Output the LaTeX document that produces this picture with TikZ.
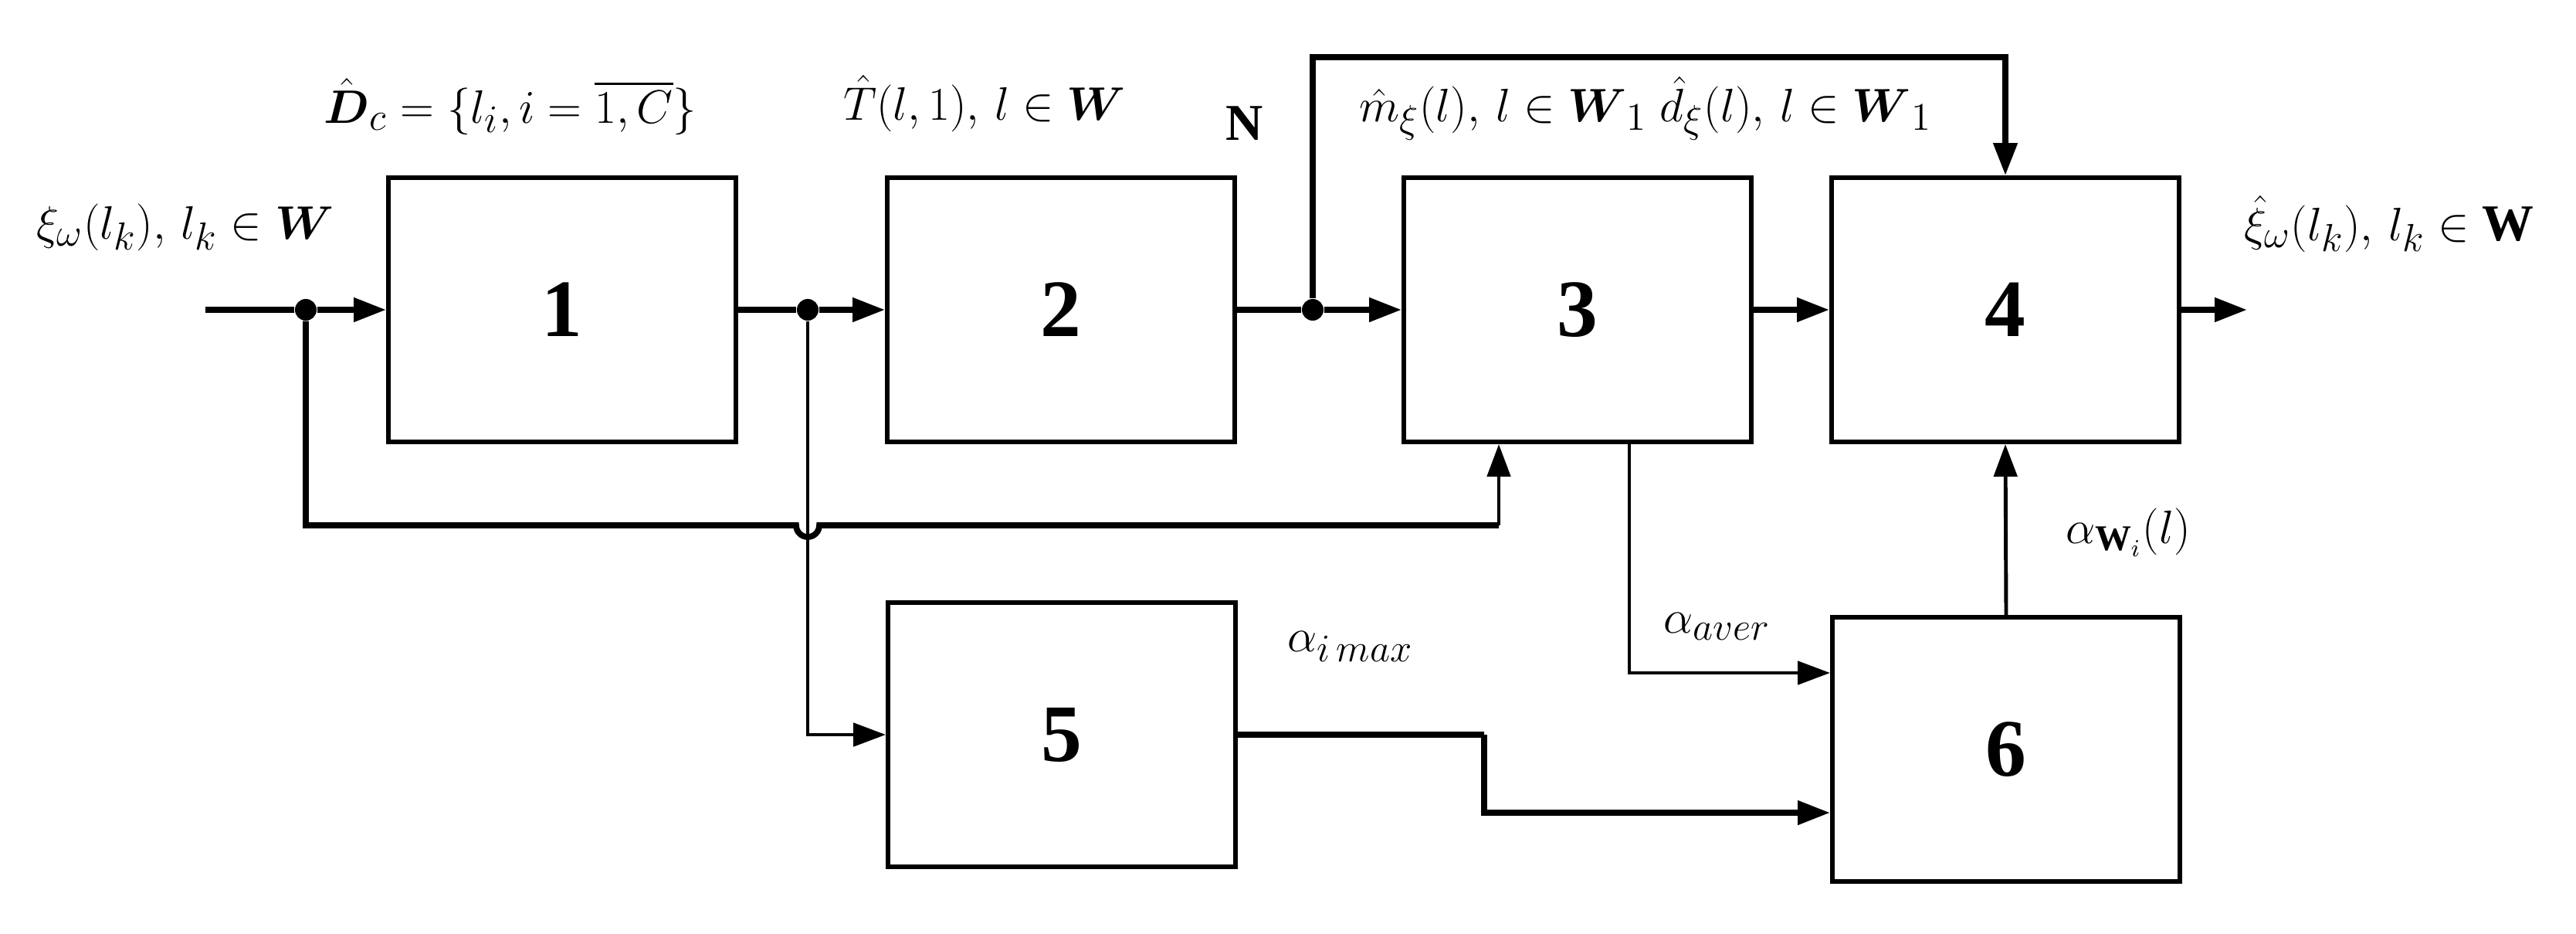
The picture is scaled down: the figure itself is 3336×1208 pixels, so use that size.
\documentclass[tikz,border=0pt]{standalone}
\usepackage{amsmath}
\usepackage{amssymb}
\usepackage{fontspec}
\setmainfont{Liberation Serif}
\usetikzlibrary{arrows.meta}
\tikzset{
  blk/.style={draw,line width=1.6pt,minimum width=4.5cm,minimum height=3.42cm,inner sep=0pt,font=\fontsize{30}{30}\selectfont\bfseries},
  sig/.style={line width=2.2pt,-{Triangle[length=0.42cm,width=0.3cm]}},
  wire/.style={line width=2.2pt},
  thin/.style={line width=1.4pt,-{Triangle[length=0.42cm,width=0.3cm]}},
  dot/.style={circle,fill,inner sep=0pt,minimum width=0.22cm,minimum height=0.28cm},
  lbl/.style={font=\fontsize{19}{19}\selectfont,inner sep=1pt}
}
\begin{document}
\begin{tikzpicture}[x=0.01cm,y=-0.01cm]
  \useasboundingbox (0,0) rectangle (3336,1208);
  % blocks
  \node[blk] (b1) at (728,401) {1};
  \node[blk] (b2) at (1374,401) {2};
  \node[blk] (b3) at (2043,401) {3};
  \node[blk] (b4) at (2597,401) {4};
  \node[blk] (b5) at (1375,951) {5};
  \node[blk] (b6) at (2598,970) {6};
  % junctions
  \coordinate (in) at (266,401);
  \node[dot] (j1) at (396,401) {};
  \node[dot] (j2) at (1046,401) {};
  \node[dot] (j3) at (1700,401) {};
  \coordinate (out) at (2910,401);
  % main chain
  \draw[wire] (in) -- (j1);
  \draw[sig] (j1) -- (b1.west);
  \draw[wire] (b1.east) -- (j2);
  \draw[sig] (j2) -- (b2.west);
  \draw[wire] (b2.east) -- (j3);
  \draw[sig] (j3) -- (b3.west);
  \draw[sig] (b3.east) -- (b4.west);
  \draw[sig] (b4.east) -- (out);
  % bypass over the top
  \draw[sig] (j3) |- (1700,74) -| (b4.north);
  % feedback into 3 with a jump over the branch to 5
  \draw[wire] (j1) |- (1031,680) arc (180:0:15) -- (1941,680);
  \draw[thin] (1941,680) -- (b3.south -| 1941,0);
  \draw[thin] (j2) |- (b5.west);
  % into 6
  \draw[thin] (b3.south -| 2110,0) |- (b6.west |- 0,871);
  \draw[wire] (b5.east) -- (1922,951);
  \draw[sig] (1922,951) |- (b6.west |- 0,1052);
  \draw[thin] (b6.north) -- (b4.south);
  % labels
  \node[lbl] (t1) at (240,294) {$\xi_\omega(l_k),\, l_k \in \boldsymbol{W}$};
  \node[lbl] (t2) at (661,138) {$\hat{\boldsymbol{D}}_c = \{l_i, i=\overline{1,C}\}$};
  \node[lbl] (t3) at (1275,134) {$\hat{T}(l,1),\, l \in \boldsymbol{W}$};
  \node[lbl] (t4) at (1612,160) {\textbf{N}};
  \node[lbl] (t5) at (2131,140) {$\hat{m}_\xi(l),\, l \in \boldsymbol{W}_1\ \hat{d}_\xi(l),\, l \in \boldsymbol{W}_1$};
  \node[lbl] (t6) at (3094,290) {$\hat{\xi}_\omega(l_k),\, l_k \in \mathbf{W}$};
  \node[lbl] (t7) at (2756,689) {$\alpha_{\mathbf{W}_i}(l)$};
  \node[lbl] (t8) at (2224,811) {$\alpha_{aver}$};
  \node[lbl] (t9) at (1749,837) {$\alpha_{i\,max}$};
\end{tikzpicture}
\end{document}
